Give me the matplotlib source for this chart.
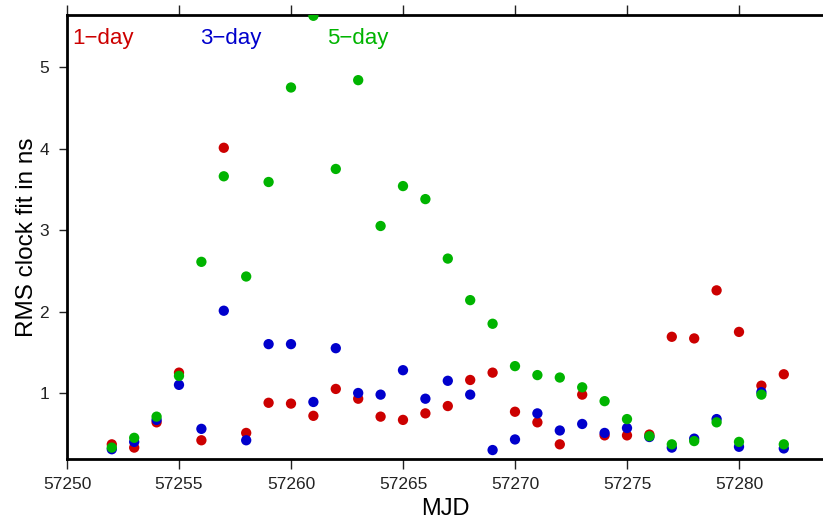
import matplotlib
matplotlib.use('Agg')
import matplotlib.pyplot as plt

plt.rcParams['font.family'] = ['Liberation Sans', 'DejaVu Sans']

# MJD days
mjd = list(range(57252, 57283))

# RMS clock fit (ns)
rms_1day = [0.37, 0.33, 0.64, 1.25, 0.42, 4.01, 0.51, 0.88, 0.87, 0.72,
            1.05, 0.93, 0.71, 0.67, 0.75, 0.84, 1.16, 1.25, 0.77, 0.64,
            0.37, 0.98, 0.48, 0.48, 0.49, 1.69, 1.67, 2.26, 1.75, 1.09, 1.23]
rms_3day = [0.31, 0.40, 0.67, 1.10, 0.56, 2.01, 0.42, 1.60, 1.60, 0.89,
            1.55, 1.00, 0.98, 1.28, 0.93, 1.15, 0.98, 0.30, 0.43, 0.75,
            0.54, 0.62, 0.51, 0.57, 0.46, 0.33, 0.44, 0.68, 0.34, 1.01, 0.32]
rms_5day = [0.33, 0.45, 0.71, 1.21, 2.61, 3.66, 2.43, 3.59, 4.75, 5.63,
            3.75, 4.84, 3.05, 3.54, 3.38, 2.65, 2.14, 1.85, 1.33, 1.22,
            1.19, 1.07, 0.90, 0.68, 0.47, 0.37, 0.41, 0.64, 0.40, 0.98, 0.37]

series = [('1\u2212day', rms_1day, '#cc0000'),
          ('3\u2212day', rms_3day, '#0000cc'),
          ('5\u2212day', rms_5day, '#00b400')]

fig = plt.figure(figsize=(8.23, 5.20), dpi=100)
ax = fig.add_axes([0.0814, 0.1173, 0.9186, 0.8539])

for name, vals, col in series:
    ax.scatter(mjd, vals, s=55, color=col, edgecolors='none', zorder=3, clip_on=True)

ax.set_xlim(57250, 57283.75)
ax.set_ylim(0.19, 5.64)
ax.set_xticks(range(57250, 57285, 5))
ax.set_yticks([1, 2, 3, 4, 5])

ax.spines['right'].set_visible(False)
for s in ['top', 'bottom', 'left']:
    ax.spines[s].set_linewidth(2)
ax.tick_params(axis='x', which='both', top=True, bottom=True, direction='out',
               length=7, width=1, labelsize=12.5, colors='#222222', pad=6)
ax.tick_params(axis='y', which='both', right=False, direction='out',
               length=6, width=1, labelsize=12.5, colors='#222222', pad=7)

ax.set_xlabel('MJD', fontsize=17, labelpad=4)
ax.set_ylabel('RMS clock fit in ns', fontsize=17.5, labelpad=1)

xpos = [0.007, 0.176, 0.344]
for (name, vals, col), xp in zip(series, xpos):
    ax.text(xp, 0.948, name, color=col, fontsize=16, transform=ax.transAxes,
            ha='left', va='center')

fig.savefig('out.png', dpi=100)
